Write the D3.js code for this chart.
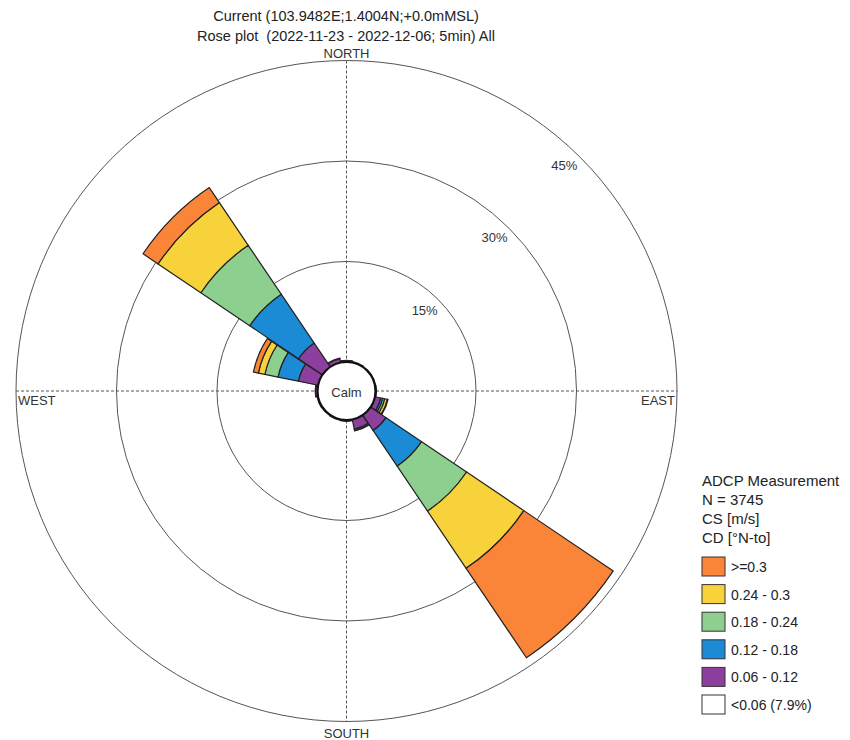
<!DOCTYPE html>
<html>
<head>
<meta charset="utf-8">
<script src="https://cdn.jsdelivr.net/npm/d3@7"></script>
<style>
  html, body { margin: 0; padding: 0; background: #fff; }
  svg { display: block; font-family: "Liberation Sans", Arial, sans-serif; }
</style>
</head>
<body>
<svg id="chart" width="850" height="740"></svg>
<script>
// Direction bins (degrees, N-to, clockwise)
const directions = [0, 22.5, 45, 67.5, 90, 112.5, 135, 157.5, 180, 202.5, 225, 247.5, 270, 292.5, 315, 337.5];

// Frequency (%) per direction bin for each current-speed class
const speed006_012 = [0.2, 0.15, 0.1, 0.1, 0.15, 0.9, 2.8, 1.5, 0.2, 0.15, 0.1, 0.15, 0.3, 3.0, 4.3, 0.6];
const speed012_018 = [0.05, 0, 0, 0, 0, 0.3, 6.4, 0.2, 0, 0, 0, 0, 0.05, 3.1, 8.8, 0.1];
const speed018_024 = [0, 0, 0, 0, 0, 0.3, 8.1, 0.05, 0, 0, 0, 0, 0, 2.0, 8.8, 0];
const speed024_030 = [0, 0, 0, 0, 0, 0.4, 10.3, 0, 0, 0, 0, 0, 0, 1.0, 7.7, 0];
const speed030_up  = [0, 0, 0, 0, 0, 0.1, 16.1, 0, 0, 0, 0, 0, 0, 0.75, 2.7, 0];

const classLabels = ["0.06 - 0.12", "0.12 - 0.18", "0.18 - 0.24", "0.24 - 0.3", ">=0.3"];
const classColors = ["#8c3f9c", "#1b8bd6", "#8dcf8e", "#f7d23a", "#fa8539"];
const calmLabel = "<0.06 (7.9%)";

const ringValues = [15, 30, 45];
const compassLabels = ["NORTH", "EAST", "SOUTH", "WEST"];

const titleLines = [
  "Current (103.9482E;1.4004N;+0.0mMSL)",
  "Rose plot  (2022-11-23 - 2022-12-06; 5min) All"
];
const legendHeader = ["ADCP Measurement", "N = 3745", "CS [m/s]", "CD [\u00B0N-to]"];

const series = [speed006_012, speed012_018, speed018_024, speed024_030, speed030_up];

const svg = d3.select("#chart");
const cx = 346.5, cy = 391;
const calmR = 29;

// Radius grows linearly with cumulative frequency, starting at the calm circle
const r = d3.scaleLinear().domain([0, 45]).range([calmR, 330.5]);

const g = svg.append("g").attr("transform", `translate(${cx},${cy})`);

// Frequency rings
g.selectAll("circle.ring")
  .data(ringValues)
  .join("circle")
  .attr("class", "ring")
  .attr("r", d => r(d))
  .attr("fill", "none")
  .attr("stroke", "#555")
  .attr("stroke-width", 1);

// Compass axes
const outer = r(45);
g.append("line").attr("x1", 0).attr("x2", 0).attr("y1", -outer).attr("y2", outer)
  .attr("stroke", "#555").attr("stroke-width", 1).attr("stroke-dasharray", "3,2");
g.append("line").attr("x1", -outer).attr("x2", outer).attr("y1", 0).attr("y2", 0)
  .attr("stroke", "#555").attr("stroke-width", 1).attr("stroke-dasharray", "3,2");

// Ring labels along the NE diagonal
const labAng = 44 * Math.PI / 180;
g.selectAll("text.ringlab")
  .data(ringValues)
  .join("text")
  .attr("class", "ringlab")
  .attr("x", d => (r(d) - 17) * Math.sin(labAng))
  .attr("y", d => -(r(d) - 17) * Math.cos(labAng))
  .attr("text-anchor", "middle")
  .attr("dominant-baseline", "central")
  .attr("font-size", 13)
  .attr("fill", "#333")
  .text(d => d + "%");

// Stacked petals
const halfW = 11 * Math.PI / 180;
const arc = d3.arc();
const petals = [];
directions.forEach((dir, i) => {
  let cum = 0;
  series.forEach((s, k) => {
    const v = s[i];
    if (v > 0) {
      petals.push({ dir, inner: cum, outer: cum + v, color: classColors[k] });
    }
    cum += v;
  });
});

g.selectAll("path.petal")
  .data(petals)
  .join("path")
  .attr("class", "petal")
  .attr("d", d => {
    const a = d.dir * Math.PI / 180;
    return arc({ innerRadius: r(d.inner), outerRadius: r(d.outer), startAngle: a - halfW, endAngle: a + halfW });
  })
  .attr("fill", d => d.color)
  .attr("stroke", "#222")
  .attr("stroke-width", 1.2)
  .attr("stroke-linejoin", "round");

// Calm circle
g.append("circle").attr("r", calmR).attr("fill", "#fff").attr("stroke", "#111").attr("stroke-width", 2.2);
g.append("text").attr("x", 0).attr("y", 1)
  .attr("text-anchor", "middle").attr("dominant-baseline", "central")
  .attr("font-size", 13).attr("fill", "#333").text("Calm");

// Compass labels
g.append("text").attr("x", 0).attr("y", -outer - 3).attr("text-anchor", "middle")
  .attr("font-size", 13).attr("fill", "#333").text(compassLabels[0]);
g.append("text").attr("x", 0).attr("y", outer + 16).attr("text-anchor", "middle")
  .attr("font-size", 13).attr("fill", "#333").text(compassLabels[2]);
g.append("text").attr("x", outer - 2).attr("y", 14).attr("text-anchor", "end")
  .attr("font-size", 13).attr("fill", "#333").text(compassLabels[1]);
g.append("text").attr("x", -outer + 2).attr("y", 14).attr("text-anchor", "start")
  .attr("font-size", 13).attr("fill", "#333").text(compassLabels[3]);

// Title
svg.selectAll("text.title")
  .data(titleLines)
  .join("text")
  .attr("class", "title")
  .attr("x", 346)
  .attr("y", (d, i) => 21 + i * 20)
  .attr("text-anchor", "middle")
  .attr("font-size", 14.5)
  .attr("fill", "#222")
  .style("white-space", "pre")
  .text(d => d);

// Legend
const lx = 702;
svg.selectAll("text.lhead")
  .data(legendHeader)
  .join("text")
  .attr("class", "lhead")
  .attr("x", lx)
  .attr("y", (d, i) => 486 + i * 19)
  .attr("font-size", 15)
  .attr("fill", "#222")
  .text(d => d);

const legendItems = classLabels.map((l, i) => ({ label: l, color: classColors[i] })).reverse();
legendItems.push({ label: calmLabel, color: "#fff" });

const li = svg.selectAll("g.litem")
  .data(legendItems)
  .join("g")
  .attr("class", "litem")
  .attr("transform", (d, i) => `translate(${lx},${557 + i * 27.6})`);
li.append("rect").attr("width", 23).attr("height", 19)
  .attr("fill", d => d.color).attr("stroke", "#333").attr("stroke-width", 1);
li.append("text").attr("x", 29).attr("y", 10).attr("dominant-baseline", "central")
  .attr("font-size", 14).attr("fill", "#222").text(d => d.label);
</script>
</body>
</html>
